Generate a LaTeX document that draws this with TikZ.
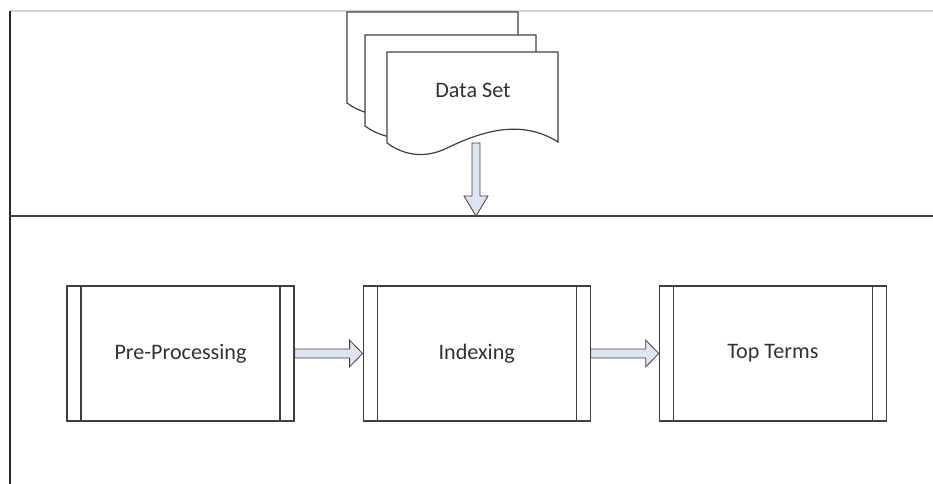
\documentclass[tikz,border=0pt]{standalone}
\usepackage{fontspec}
\setmainfont{Carlito}
\usetikzlibrary{positioning, calc}
\definecolor{linegray}{RGB}{64, 64, 64}
\definecolor{textgray}{RGB}{50, 50, 50}
\definecolor{arrowfill}{RGB}{222, 228, 242}

\begin{document}
\begin{tikzpicture}[x=0.75pt, y=-0.75pt,
                procbox/.style={draw=linegray, line width=0.9pt,
                    minimum width=170.25pt, minimum height=101.25pt,
                    fill=white, text=textgray,
                    font=\fontsize{16.6}{20}\selectfont,
                    path picture={
                        \draw[linegray, line width=0.9pt]
                            ([xshift=10.5pt]path picture bounding box.north west)
                            -- ([xshift=10.5pt]path picture bounding box.south west);
                        \draw[linegray, line width=0.9pt]
                            ([xshift=-10.5pt]path picture bounding box.north east)
                            -- ([xshift=-10.5pt]path picture bounding box.south east);
                    }},
                docpage/.style={draw=linegray, line width=0.9pt, fill=white},
                fatarrow/.style={draw=linegray, line width=0.6pt, fill=arrowfill},
                lbl/.style={text=textgray, font=\fontsize{16.6}{20}\selectfont}
            ]
            \useasboundingbox (0,0) rectangle (933,484);

            % frame
            \draw[gray!35, line width=0.8pt] (10,11) -- (933,11);
            \draw[black!85, line width=1.1pt] (10,11) -- (10,484);
            \draw[linegray, line width=1.1pt] (10,216) -- (933,216);
            \coordinate (split) at (476,216);

            % Data Set (stack of pages)
            \foreach \dx/\dy in {-40/-40, -22/-17, 0/0}
                \draw[docpage, shift={(\dx,\dy)}]
                    (387,52) -- (558,52) -- (558,142)
                    .. controls (520,118) and (480,132) .. (445,149)
                    .. controls (425,158) and (405,156) .. (387,143) -- cycle;
            \node[lbl] (data) at (473,90) {Data Set};
            \coordinate (dsout) at (476,143);

            \draw[fatarrow] let \p1=(dsout), \p2=(split) in
                (\x1-3pt,\y1) -- (\x1-3pt,\y2+15pt) -- (\x1-9pt,\y2+15pt)
                -- (\x1,\y2) -- (\x1+9pt,\y2+15pt) -- (\x1+3pt,\y2+15pt)
                -- (\x1+3pt,\y1) -- cycle;

            % processing steps
            \node[procbox] (pre) at (180.5,353.5) {Pre-Processing};
            \node[procbox, right=51pt of pre] (idx) {Indexing};
            \node[procbox, right=51pt of idx] (top) {Top Terms};

            \draw[fatarrow] let \p1=(pre.east), \p2=(idx.west) in
                (\x1,\y1+3.4pt) -- (\x2-9.75pt,\y1+3.4pt) -- (\x2-9.75pt,\y1+10pt)
                -- (\x2,\y1) -- (\x2-9.75pt,\y1-10pt) -- (\x2-9.75pt,\y1-3.4pt)
                -- (\x1,\y1-3.4pt) -- cycle;
            \draw[fatarrow] let \p1=(idx.east), \p2=(top.west) in
                (\x1,\y1+3.4pt) -- (\x2-9.75pt,\y1+3.4pt) -- (\x2-9.75pt,\y1+10pt)
                -- (\x2,\y1) -- (\x2-9.75pt,\y1-10pt) -- (\x2-9.75pt,\y1-3.4pt)
                -- (\x1,\y1-3.4pt) -- cycle;

            \end{tikzpicture}
\end{document}
